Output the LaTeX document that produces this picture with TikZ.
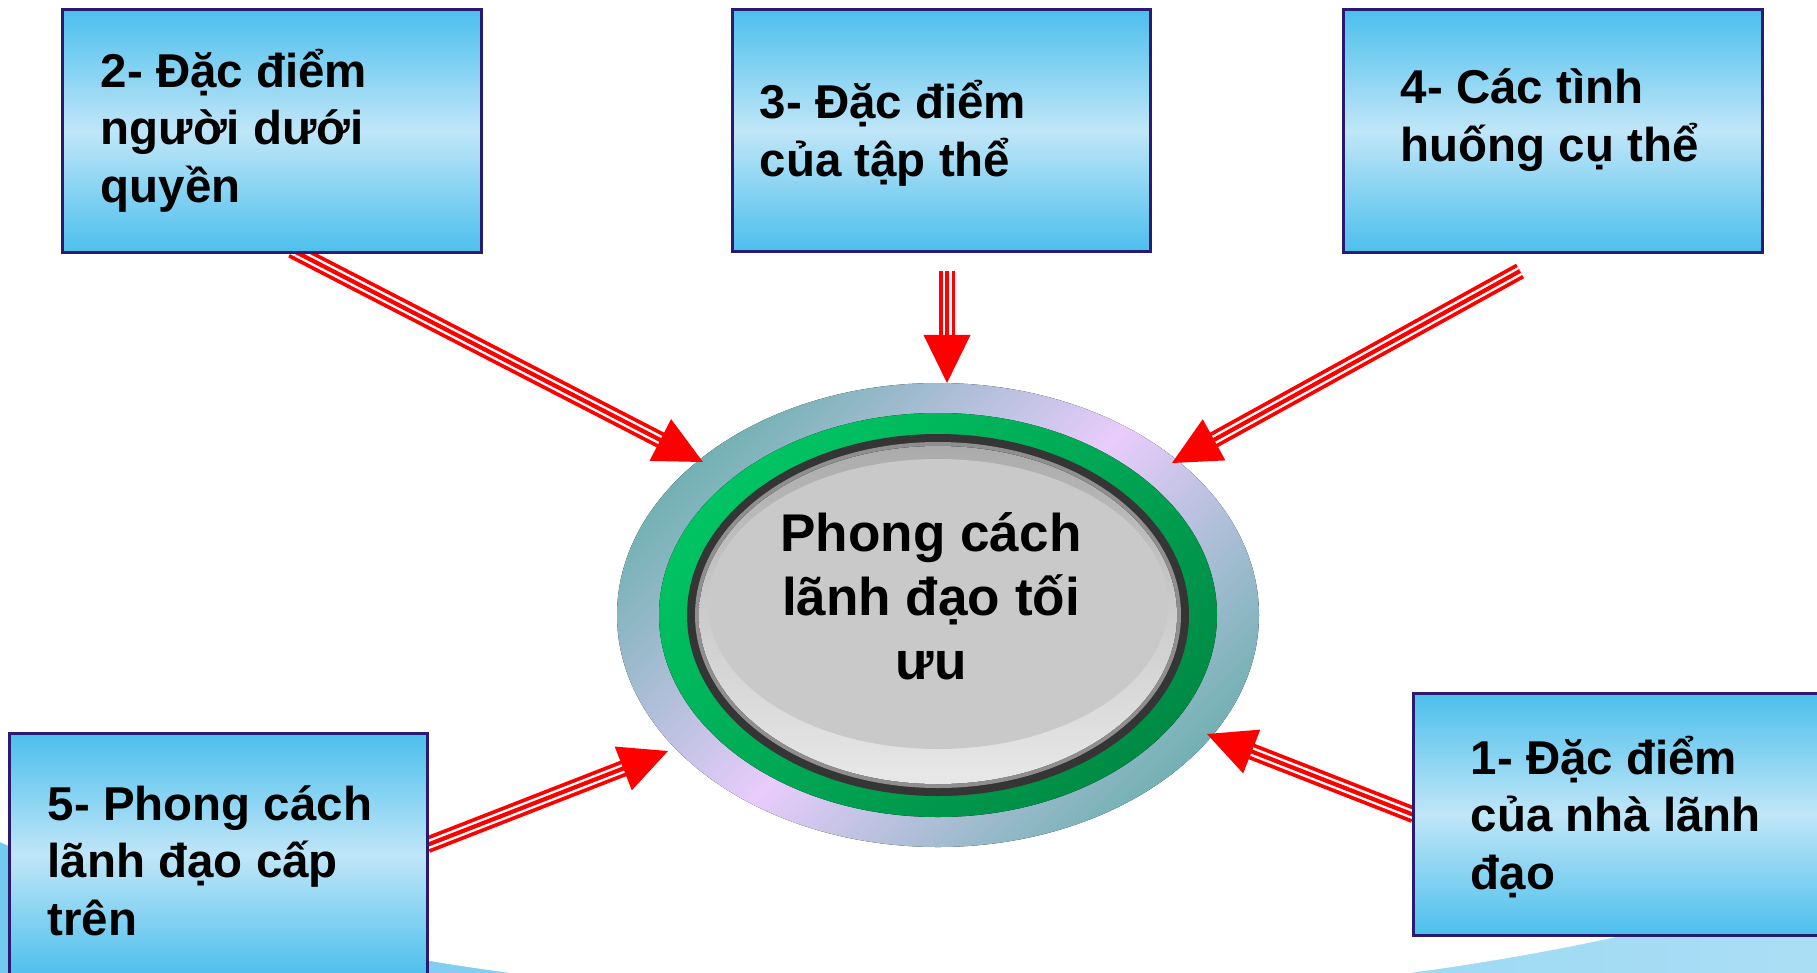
\documentclass[tikz,border=0pt]{standalone}
\usepackage{fontspec}
\setmainfont{Liberation Sans}
\usetikzlibrary{calc}
\definecolor{boxblue}{HTML}{4CBFEC}
\definecolor{boxlight}{HTML}{C0E6F8}
\definecolor{boxborder}{HTML}{2A1B72}
\definecolor{ringteal}{HTML}{74B1B4}
\definecolor{ringlav}{HTML}{E9CCFC}
\definecolor{greenA}{HTML}{00C463}
\definecolor{greenB}{HTML}{008B45}
\definecolor{bgA}{HTML}{74C9EF}
\definecolor{bgB}{HTML}{AADEF5}
\definecolor{ringdark}{HTML}{353535}
\definecolor{ringgray}{HTML}{8F8F8F}
\tikzset{
  factor/.style={draw=boxborder, line width=0.03cm, top color=boxblue,
    bottom color=boxblue, middle color=boxlight, minimum width=4.18cm,
    minimum height=2.42cm, inner sep=0pt, outer sep=0pt},
  factortext/.style={font=\bfseries\fontsize{13.5pt}{16.35pt}\selectfont,
    align=left, anchor=base west, inner sep=0pt, text=black},
  coretext/.style={font=\bfseries\fontsize{15.1pt}{18.2pt}\selectfont,
    align=center, anchor=base, inner sep=0pt, text=black},
}
\newcommand\triplearrow[2]{%
  \coordinate (hb) at ($(#2)!0.48cm!(#1)$);
  \coordinate (se) at ($(#2)!0.44cm!(#1)$);
  \draw[red, line width=0.165cm] (#1) -- (se);
  \draw[white, line width=0.09cm] (#1) -- (se);
  \draw[red, line width=0.042cm] (#1) -- (se);
  \fill[red] (#2) -- ($(hb)!0.235cm!90:(#2)$) -- ($(hb)!0.235cm!-90:(#2)$) -- cycle;
}
\begin{document}
\begin{tikzpicture}[x=0.01cm, y=-0.01cm]
\useasboundingbox (0,0) rectangle (1817,972);
\clip (0,0) rectangle (1817,972);
% background swoosh
\begin{scope}
  \clip (0,602) rectangle (1817,972);
  \fill[left color=bgA, right color=bgB] (0,602) rectangle (1817,972);
  \fill[white] (960,602) ellipse [x radius=1200, y radius=400];
\end{scope}
% central emblem
\coordinate (core) at (938,615);
\fill[top color=ringteal, bottom color=ringteal, middle color=ringlav, shading angle=45]
  (core) ellipse [x radius=321, y radius=232];
\fill[top color=greenA, bottom color=greenB, shading angle=45]
  (core) ellipse [x radius=279, y radius=202];
\fill[ringdark] (core) ellipse [x radius=251, y radius=181];
\fill[ringgray] (core) ellipse [x radius=243, y radius=173];
\fill[top color=black!33, bottom color=black!9, middle color=black!20]
  (core) ellipse [x radius=239, y radius=169];
\fill[black!21] (938,604) ellipse [x radius=230, y radius=145];
\node[coretext] (ctext) at (931,679) {Phong cách\\lãnh đạo tối\\ưu};
% arrow ends
\coordinate (a2s) at (292,250);  \coordinate (a2e) at (703,462);
\coordinate (a3s) at (947,271);  \coordinate (a3e) at (947,383);
\coordinate (a4s) at (1520,271); \coordinate (a4e) at (1172,463);
\coordinate (a5s) at (427,845);  \coordinate (a5e) at (668,751);
\coordinate (a1s) at (1414,815); \coordinate (a1e) at (1207,734);
\triplearrow{a2s}{a2e}
\triplearrow{a3s}{a3e}
\triplearrow{a4s}{a4e}
\triplearrow{a5s}{a5e}
\triplearrow{a1s}{a1e}
% factor boxes
\node[factor] (b2) at (272,131) {};
\node[factor] (b3) at (941.5,130.5) {};
\node[factor] (b4) at (1553,131) {};
\node[factor] (b5) at (218.5,855) {};
\node[factor] (b1) at (1623,814.5) {};
\node[factortext] (t2) at (100,202) {2- Đặc điểm\\người dưới\\quyền};
\node[factortext] (t3) at (759,176) {3- Đặc điểm\\của tập thể};
\node[factortext] (t4) at (1400,161) {4- Các tình\\huống cụ thể};
\node[factortext] (t5) at (47,935) {5- Phong cách\\lãnh đạo cấp\\trên};
\node[factortext] (t1) at (1470,889) {1- Đặc điểm\\của nhà lãnh\\đạo};
\end{tikzpicture}
\end{document}
